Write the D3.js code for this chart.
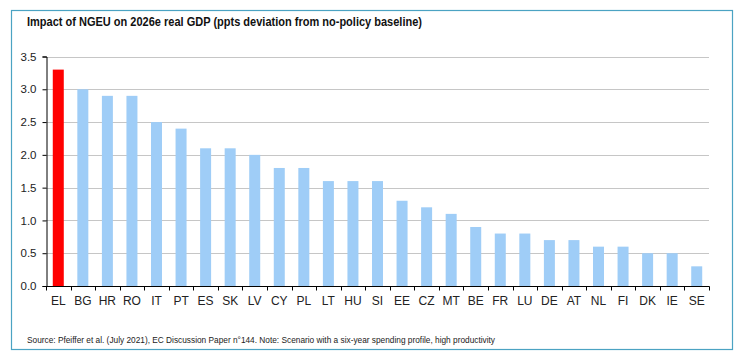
<!DOCTYPE html>
<html><head><meta charset="utf-8">
<script src="https://cdn.jsdelivr.net/npm/d3@7"></script>
<style>body{margin:0;background:#fff}svg{display:block}text{font-family:"Liberation Sans Narrow","Arial Narrow","Liberation Sans",Arial,sans-serif}</style>
</head><body><svg id="c" width="740" height="357"></svg>
<script>
const categories = ["EL","BG","HR","RO","IT","PT","ES","SK","LV","CY","PL","LT","HU","SI","EE","CZ","MT","BE","FR","LU","DE","AT","NL","FI","DK","IE","SE"];
const values = [3.3,3.0,2.9,2.9,2.5,2.4,2.1,2.1,2.0,1.8,1.8,1.6,1.6,1.6,1.3,1.2,1.1,0.9,0.8,0.8,0.7,0.7,0.6,0.6,0.5,0.5,0.3];
const highlight = ["EL"];
const yTicks = [0,0.5,1.0,1.5,2.0,2.5,3.0,3.5];
const title = "Impact of NGEU on 2026e real GDP (ppts deviation from no-policy baseline)";
const source = "Source: Pfeiffer et al. (July 2021), EC Discussion Paper n°144. Note: Scenario with a six-year spending profile, high productivity";

const svg = d3.select("#c");
svg.append("rect").attr("x",11.5).attr("y",10.5).attr("width",721).attr("height",339)
  .attr("fill","none").attr("stroke","#4ba3c3").attr("stroke-width",1.2);

const m = {l:46, r:709, t:56.5, b:286};
const xb = d3.scaleBand().domain(categories).range([m.l,m.r]);
const y = d3.scaleLinear().domain([0,3.5]).range([m.b,m.t]);

// gridlines
svg.append("g").selectAll("line").data(yTicks.filter(d=>d>0)).join("line")
  .attr("x1",m.l).attr("x2",m.r).attr("y1",d=>Math.round(y(d))+0.5).attr("y2",d=>Math.round(y(d))+0.5)
  .attr("stroke","#c6c6c6").attr("stroke-width",1);

// bars
svg.append("g").selectAll("rect").data(categories).join("rect")
  .attr("x",(d)=>xb(d)+xb.bandwidth()/2-5.5).attr("width",11)
  .attr("y",(d,i)=>y(values[i])).attr("height",(d,i)=>y(0)-y(values[i]))
  .attr("fill",d=>highlight.includes(d)?"#ff0000":"#9fcdf7");

// y axis
const ya = svg.append("g").attr("transform",`translate(${m.l+0.5},0)`)
  .call(d3.axisLeft(y).tickValues(yTicks).tickFormat(d3.format(".1f")).tickSize(4).tickPadding(6));
ya.select(".domain").attr("stroke","#000");
ya.selectAll(".tick line").attr("stroke","#000");
ya.selectAll("text").attr("font-size",11.5).attr("fill","#222").style("font-family",'"Liberation Sans Narrow","Arial Narrow","Liberation Sans",Arial,sans-serif');

// x axis
const xg = svg.append("g").attr("transform",`translate(0,${m.b+0.5})`);
xg.append("line").attr("x1",m.l).attr("x2",m.r+0.5).attr("stroke","#000").attr("stroke-width",1.2);
const bounds = categories.map(d=>xb(d)).concat([m.r]);
xg.selectAll("line.t").data(bounds).join("line").attr("class","t")
  .attr("x1",d=>Math.round(d)+0.5).attr("x2",d=>Math.round(d)+0.5).attr("y1",0).attr("y2",4).attr("stroke","#000");
xg.selectAll("text").data(categories).join("text")
  .attr("x",d=>xb(d)+xb.bandwidth()/2).attr("y",18).attr("text-anchor","middle")
  .attr("font-size",12).attr("fill","#222").text(d=>d);

svg.append("text").attr("x",27).attr("y",26).attr("font-size",13).attr("font-weight","bold")
  .attr("fill","#111").attr("textLength",395).attr("lengthAdjust","spacingAndGlyphs").text(title);
svg.append("text").attr("x",27).attr("y",343).attr("font-size",9.5)
  .attr("fill","#222").attr("textLength",468).attr("lengthAdjust","spacingAndGlyphs").text(source);
</script></body></html>
